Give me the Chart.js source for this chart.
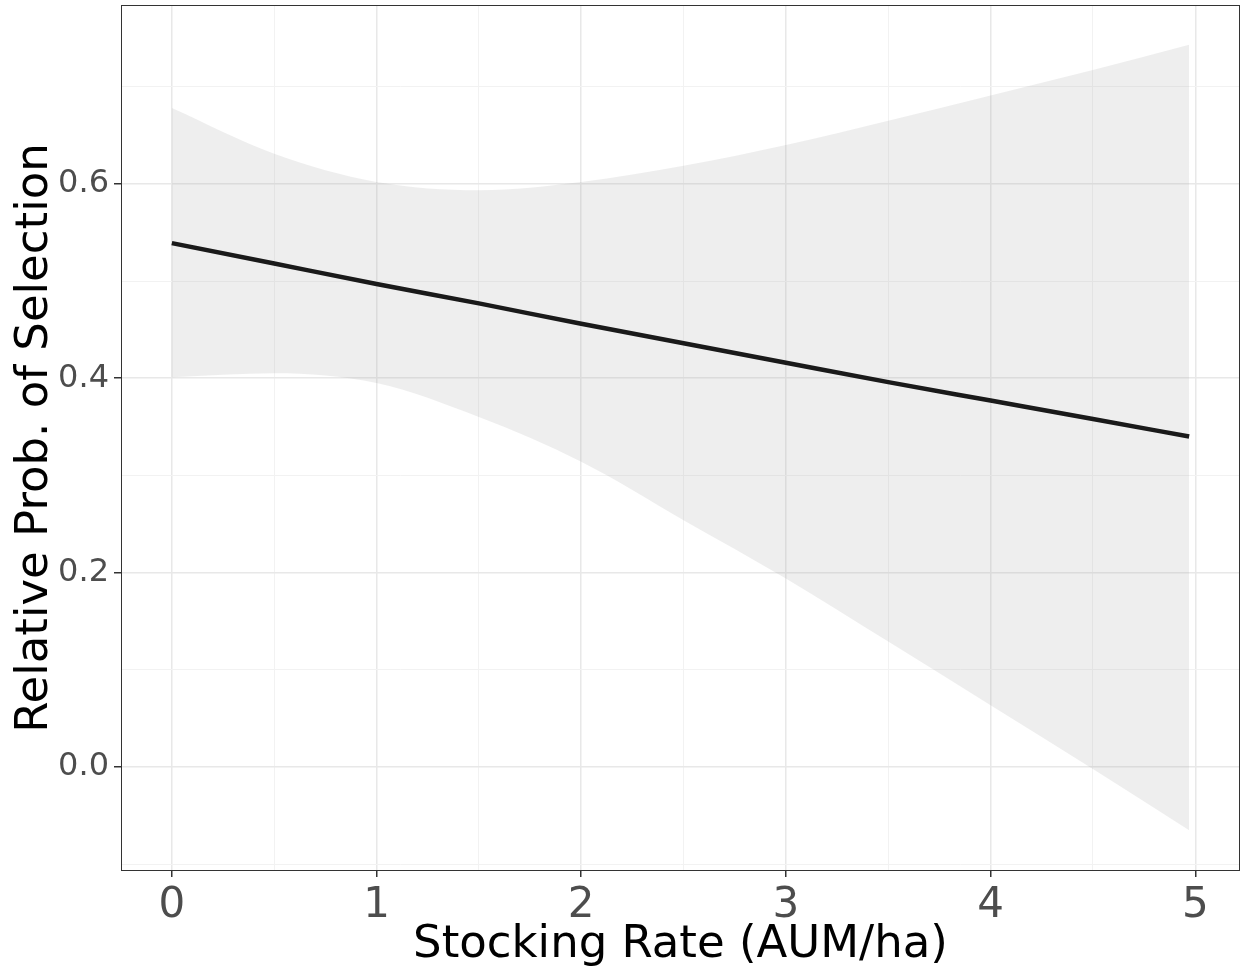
<!DOCTYPE html>
<html>
<head>
<meta charset="utf-8">
<script src="https://cdn.jsdelivr.net/npm/chart.js@4.4.1/dist/chart.umd.min.js"></script>
<style>
  body { margin: 0; background: #fff; }
  #wrap { width: 1241px; height: 976px; position: relative; }
</style>
</head>
<body>
<div id="wrap"><canvas id="myChart"></canvas></div>
<script>
const stockingRate = [0, 0.5, 1, 1.5, 2, 2.5, 3, 3.5, 4, 4.5, 4.97];
const fitProb = [0.539, 0.518, 0.497, 0.477, 0.456, 0.436, 0.416, 0.396, 0.377, 0.358, 0.340];
const upperCI = [0.678, 0.631, 0.602, 0.5935, 0.602, 0.6185, 0.640, 0.665, 0.691, 0.717, 0.743];
const lowerCI = [0.401, 0.405, 0.395, 0.360, 0.314, 0.254, 0.194, 0.129, 0.0635, -0.002, -0.065];

const yTicks = [-0.1, 0, 0.1, 0.2, 0.3, 0.4, 0.5, 0.6, 0.7];
const yLabels = [0, 0.2, 0.4, 0.6];
const xTicks = [0, 0.5, 1, 1.5, 2, 2.5, 3, 3.5, 4, 4.5, 5];
const xLabels = [0, 1, 2, 3, 4, 5];

const pts = (ys) => stockingRate.map((x, i) => ({ x: x, y: ys[i] }));
const isMajor = (v, list) => list.some(m => Math.abs(m - v) < 1e-6);

const FONT = "'DejaVu Sans', sans-serif";

const panelBorder = {
    id: 'panelBorder',
    afterDraw(chart) {
        const a = chart.chartArea;
        const c = chart.ctx;
        c.save();
        c.strokeStyle = '#333333';
        c.lineWidth = 1;
        c.strokeRect(a.left + 0.5, a.top + 0.5, a.right - a.left - 1, a.bottom - a.top - 1);
        c.restore();
    }
};

const ctx = document.getElementById('myChart').getContext('2d');
const myChart = new Chart(ctx, {
    type: 'line',
    data: {
        datasets: [{
            label: 'upper',
            data: pts(upperCI),
            borderWidth: 0,
            borderColor: 'rgba(0,0,0,0)',
            backgroundColor: 'rgba(153,153,153,0.17)',
            fill: '+1',
            pointRadius: 0,
            cubicInterpolationMode: 'monotone'
        }, {
            label: 'lower',
            data: pts(lowerCI),
            borderWidth: 0,
            borderColor: 'rgba(0,0,0,0)',
            fill: false,
            pointRadius: 0,
            cubicInterpolationMode: 'monotone'
        }, {
            label: 'fit',
            data: pts(fitProb),
            borderColor: '#000000',
            borderWidth: 4.5,
            fill: false,
            pointRadius: 0,
            cubicInterpolationMode: 'monotone'
        }]
    },
    options: {
        responsive: true,
        maintainAspectRatio: false,
        animation: false,
        layout: { padding: { top: 5, right: 1, left: 0, bottom: 0 } },
        plugins: {
            legend: { display: false },
            tooltip: { enabled: false }
        },
        scales: {
            x: {
                type: 'linear',
                min: -0.2485,
                max: 5.2185,
                afterFit: (s) => { s.height = 105; s.paddingLeft = 0; s.paddingRight = 0; },
                afterBuildTicks: (s) => { s.ticks = xTicks.map(v => ({ value: v })); },
                border: { display: false },
                grid: {
                    color: (c) => isMajor(c.tick.value, xLabels) ? '#e8e8e8' : '#f2f2f2',
                    lineWidth: (c) => isMajor(c.tick.value, xLabels) ? 1.5 : 1,
                    tickColor: (c) => isMajor(c.tick.value, xLabels) ? '#333333' : 'rgba(0,0,0,0)',
                    tickLength: 6,
                    tickWidth: 1.5
                },
                ticks: {
                    autoSkip: false,
                    maxRotation: 0,
                    padding: 4,
                    color: '#4d4d4d',
                    font: { family: FONT, size: 42 },
                    callback: (v) => isMajor(v, xLabels) ? String(Math.round(v)) : ''
                },
                title: {
                    display: true,
                    text: 'Stocking Rate (AUM/ha)',
                    color: '#000000',
                    font: { family: FONT, size: 45 },
                    padding: { top: 0, bottom: 4 }
                }
            },
            y: {
                type: 'linear',
                min: -0.107,
                max: 0.784,
                afterFit: (s) => { s.width = 121; s.paddingTop = 0; s.paddingBottom = 0; },
                afterBuildTicks: (s) => { s.ticks = yTicks.map(v => ({ value: v })); },
                border: { display: false },
                grid: {
                    color: (c) => isMajor(c.tick.value, yLabels) ? '#e8e8e8' : '#f2f2f2',
                    lineWidth: (c) => isMajor(c.tick.value, yLabels) ? 1.5 : 1,
                    tickColor: (c) => isMajor(c.tick.value, yLabels) ? '#333333' : 'rgba(0,0,0,0)',
                    tickLength: 7,
                    tickWidth: 1.5
                },
                ticks: {
                    autoSkip: false,
                    padding: 5,
                    color: '#4d4d4d',
                    font: { family: FONT, size: 32 },
                    callback: (v) => isMajor(v, yLabels) ? v.toFixed(1) : ''
                },
                title: {
                    display: true,
                    text: 'Relative Prob. of Selection',
                    color: '#000000',
                    font: { family: FONT, size: 45 },
                    padding: { top: 8, bottom: 0 }
                }
            }
        }
    },
    plugins: [panelBorder]
});
</script>
</body>
</html>
